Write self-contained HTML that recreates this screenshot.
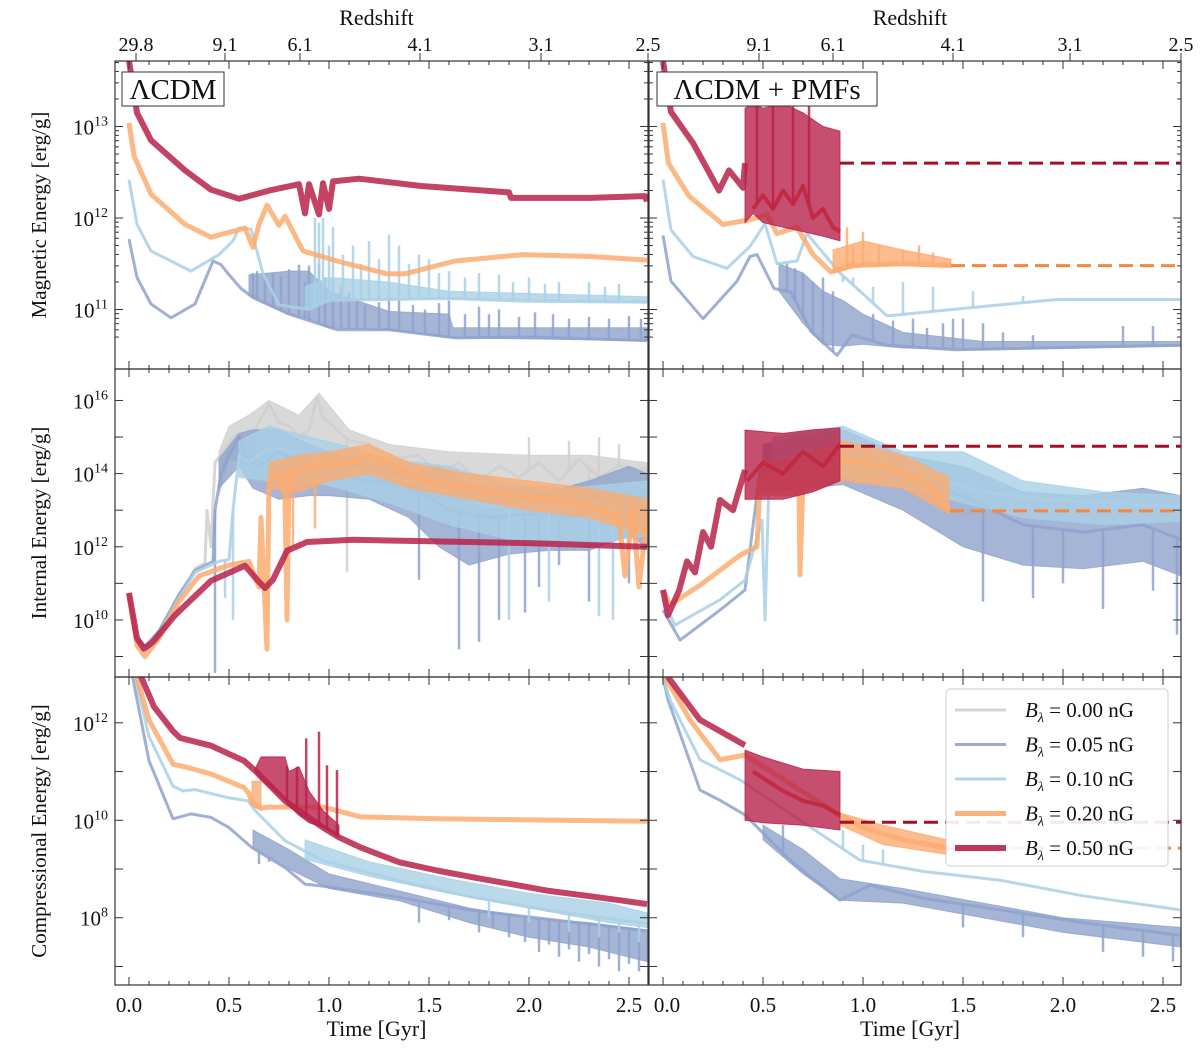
<!DOCTYPE html>
<html><head><meta charset="utf-8"><style>
body{margin:0;background:#fff}
svg{display:block;font-family:"Liberation Serif","DejaVu Serif",serif}
</style></head><body>
<svg id="fig" width="1200" height="1060" viewBox="0 0 1200 1060" xmlns="http://www.w3.org/2000/svg">
<defs>
<clipPath id="c00"><rect x="115" y="61" width="533" height="308"/></clipPath>
<clipPath id="c01"><rect x="649" y="61" width="532" height="308"/></clipPath>
<clipPath id="c10"><rect x="115" y="369" width="533" height="308"/></clipPath>
<clipPath id="c11"><rect x="649" y="369" width="532" height="308"/></clipPath>
<clipPath id="c20"><rect x="115" y="677" width="533" height="308"/></clipPath>
<clipPath id="c21"><rect x="649" y="677" width="532" height="308"/></clipPath>
</defs>
<g id="marks"></g>
<g id="axes"></g>
</svg>
<script>
// ---------- data (time in Gyr, values in log10 erg/g) ----------
const xTicks = [0.0,0.5,1.0,1.5,2.0,2.5];
const xTickLabels = ["0.0","0.5","1.0","1.5","2.0","2.5"];
const zTicksLeft = [0.035,0.48,0.855,1.455,2.06,2.595];
const zLabelsLeft = ["29.8","9.1","6.1","4.1","3.1","2.5"];
const zTicksRight = [0.48,0.85,1.45,2.035,2.59];
const zLabelsRight = ["9.1","6.1","4.1","3.1","2.5"];
const yTicksRow0 = [11,12,13];
const yTicksRow1 = [10,12,14,16];
const yTicksRow2 = [8,10,12];
const legendLabels = ["0.00","0.05","0.10","0.20","0.50"];

// top-left: magnetic, LCDM
const tl_b05_line = [[0,11.77],[0.04,11.35],[0.11,11.06],[0.21,10.91],[0.33,11.06],[0.42,11.53],[0.46,11.49],[0.5,11.38],[0.56,11.23],[0.62,11.13],[0.8,10.95],[1.04,10.78],[1.3,10.78],[1.63,10.69],[2.0,10.7],[2.59,10.66]];
const tl_b05_band = [[0.6,11.15,11.38],[0.8,10.95,11.42],[0.9,10.9,11.42],[1.0,10.8,11.2],[1.3,10.78,10.98],[1.6,10.7,10.95],[1.62,10.69,10.8],[2.59,10.66,10.8]];
const tl_b05_spikes = [[0.62,11.4],[0.64,11.42],[0.68,11.38],[0.72,11.4],[0.76,11.36],[0.8,11.44],[0.85,11.49],[0.88,11.3],[0.9,11.48],[0.95,11.5],[0.98,11.35],[1.02,11.3],[1.06,11.25],[1.1,11.2],[1.14,11.1],[1.18,11.05],[1.25,11.08],[1.3,11.12],[1.35,11.1],[1.42,11.05],[1.48,11.0],[1.55,11.07],[1.6,11.1],[1.68,10.95],[1.75,11.03],[1.8,10.95],[1.85,11.0],[1.95,10.92],[2.03,10.97],[2.12,10.95],[2.2,10.9],[2.3,10.92],[2.4,10.9],[2.5,10.93],[2.56,10.9]];
const tl_b10_line = [[0,12.42],[0.04,11.93],[0.11,11.64],[0.31,11.42],[0.45,11.6],[0.52,11.75],[0.55,11.89],[0.61,11.88],[0.67,11.39],[0.75,11.05],[0.9,11.0],[1.0,11.1],[1.6,11.12],[2.0,11.09],[2.59,11.08]];
const tl_b10_band = [[0.88,11.0,11.25],[1.0,11.1,11.35],[1.3,11.12,11.3],[1.6,11.12,11.2],[2.59,11.08,11.14]];
const tl_b10_spikes = [[0.93,12.0],[0.95,11.95],[0.97,12.0],[1.0,11.7],[1.02,11.9],[1.07,11.6],[1.12,11.7],[1.16,11.5],[1.2,11.75],[1.25,11.55],[1.3,11.82],[1.35,11.7],[1.4,11.5],[1.45,11.6],[1.5,11.55],[1.55,11.4],[1.6,11.42],[1.68,11.35],[1.75,11.4],[1.85,11.38],[1.92,11.3],[2.0,11.35],[2.08,11.28],[2.15,11.3],[2.3,11.3],[2.38,11.25],[2.45,11.28]];
const tl_b20_line = [[0,13.04],[0.025,12.68],[0.11,12.26],[0.28,11.93],[0.41,11.79],[0.58,11.89],[0.62,11.68],[0.65,11.93],[0.69,12.14],[0.75,11.92],[0.78,12.02],[0.87,11.64],[1.04,11.53],[1.29,11.39],[1.38,11.39],[1.63,11.53],[1.97,11.6],[2.31,11.58],[2.59,11.54]];
const tl_b50_line = [[0,13.72],[0.04,13.15],[0.11,12.85],[0.28,12.52],[0.41,12.31],[0.55,12.21],[0.7,12.3],[0.85,12.37],[0.88,12.05],[0.9,12.37],[0.95,12.04],[0.97,12.38],[1.0,12.1],[1.02,12.4],[1.15,12.43],[1.46,12.35],[1.9,12.28],[1.91,12.22],[2.31,12.22],[2.58,12.24],[2.59,12.18]];

// middle-left: internal, LCDM
const ml_b00_line = [[0,10.74],[0.04,9.5],[0.08,9.3],[0.15,9.7],[0.25,10.6],[0.33,11.4],[0.38,11.55],[0.39,13.0],[0.41,12.0],[0.43,14.3],[0.47,14.6],[0.52,15.0],[0.55,15.1],[0.6,14.4],[0.64,15.3],[0.7,15.9],[0.75,15.4],[0.8,15.3],[0.85,15.0],[0.9,15.2],[0.94,16.1],[0.97,15.5],[1.0,15.4],[1.1,14.9],[1.2,14.8],[1.3,14.4],[1.45,14.5],[1.55,14.0],[1.65,14.3],[1.75,13.8],[1.85,14.2],[1.95,13.9],[2.05,14.3],[2.15,13.8],[2.25,14.4],[2.35,13.9],[2.45,14.2],[2.59,14.1]];
const ml_b00_band = [[0.45,13.4,14.6],[0.5,14.4,15.3],[0.6,14.2,15.6],[0.7,14.6,16.0],[0.85,14.6,15.6],[0.95,14.6,16.2],[1.1,14.2,15.2],[1.3,13.6,14.8],[1.6,13.3,14.6],[2.0,13.2,14.5],[2.3,13.2,14.5],[2.59,13.3,14.3]];
const ml_b00_spikes = [[1.09,11.3],[1.6,12.5],[1.75,12.6],[2.0,15.0],[2.2,14.9],[2.3,12.0],[2.35,15.0],[2.45,14.8]];
const ml_b05_line = [[0,10.74],[0.04,9.5],[0.08,9.25],[0.15,9.7],[0.25,10.7],[0.33,11.35],[0.42,11.6],[0.43,13.0],[0.46,14.0],[0.5,14.5],[0.55,15.0],[0.58,14.4],[0.65,14.2],[0.75,14.6],[0.85,14.3],[1.0,14.0],[1.2,13.8],[1.4,13.7],[1.6,13.0],[1.8,12.8],[2.0,12.9],[2.2,12.8],[2.4,13.2],[2.59,13.4]];
const ml_b05_band = [[0.45,13.6,14.4],[0.55,14.2,15.1],[0.62,13.6,15.2],[0.75,13.3,15.2],[0.9,13.4,14.8],[1.0,13.4,14.6],[1.2,13.3,14.3],[1.4,12.8,14.0],[1.55,12.0,14.2],[1.7,11.5,13.7],[1.9,11.8,13.6],[2.1,11.9,13.5],[2.3,11.9,13.8],[2.5,12.3,14.2],[2.59,12.0,14.0]];
const ml_b05_spikes = [[0.43,8.55],[1.45,11.1],[1.65,9.2],[1.75,9.4],[1.85,10.0],[1.98,10.2],[2.05,10.9],[2.15,11.5],[2.3,10.5],[2.5,11.0]];
const ml_b10_line = [[0,10.7],[0.04,9.4],[0.08,9.2],[0.15,9.6],[0.25,10.6],[0.33,11.3],[0.45,11.6],[0.5,11.65],[0.52,13.0],[0.55,14.5],[0.6,14.3],[0.7,14.7],[0.85,14.6],[1.0,14.3],[1.2,14.0],[1.4,13.8],[1.6,13.5],[1.8,13.1],[2.0,13.2],[2.2,13.0],[2.4,13.3],[2.59,13.2]];
const ml_b10_band = [[0.55,13.9,14.9],[0.7,13.8,15.3],[0.9,13.8,15.0],[1.05,13.6,14.8],[1.3,13.2,14.4],[1.6,12.6,14.2],[1.9,12.2,13.7],[2.2,12.0,13.6],[2.59,12.3,13.8]];
const ml_b10_spikes = [[0.48,10.6],[0.52,10.0],[1.9,10.0],[2.1,10.5],[2.35,10.1],[2.42,10.0]];
const ml_b20_line = [[0,10.7],[0.04,9.3],[0.08,9.0],[0.15,9.5],[0.25,10.5],[0.35,11.2],[0.5,11.5],[0.6,11.6],[0.65,10.9],[0.66,12.8],[0.69,9.2],[0.7,13.8],[0.75,14.0],[0.78,13.3],[0.79,10.0],[0.8,14.0],[0.9,14.2],[1.0,14.3],[1.1,14.3],[1.2,14.5],[1.3,14.3],[1.4,14.0],[1.5,13.8],[1.7,13.6],[1.9,13.4],[2.1,13.3],[2.3,13.1],[2.45,12.8],[2.48,11.2],[2.52,13.0],[2.55,10.9],[2.59,12.8]];
const ml_b20_band = [[0.7,13.6,14.3],[0.85,13.5,14.5],[1.0,13.8,14.6],[1.2,14.0,14.8],[1.4,13.6,14.3],[1.7,13.3,14.0],[2.0,13.0,13.8],[2.3,12.8,13.6],[2.59,12.3,13.3]];
const ml_b20_spikes = [[0.82,12.0],[0.93,12.5]];
const ml_b50_line = [[0,10.74],[0.04,9.5],[0.075,9.21],[0.12,9.4],[0.23,10.13],[0.41,11.07],[0.58,11.48],[0.64,11.1],[0.68,10.87],[0.72,11.1],[0.79,11.89],[0.89,12.13],[1.125,12.19],[1.5,12.15],[2.0,12.1],[2.59,12.0]];

// bottom-left: compressional, LCDM
const bl_b05_line = [[0.0,13.2],[0.02,12.9],[0.1,11.22],[0.22,10.03],[0.31,10.13],[0.41,10.06],[0.5,9.85],[0.615,9.44],[0.78,9.03],[0.88,8.69],[0.97,8.65],[1.35,8.42],[1.72,8.15],[2.1,7.97],[2.59,7.73]];
const bl_b05_band = [[0.62,9.44,9.8],[0.8,9.0,9.4],[1.0,8.6,8.9],[1.35,8.35,8.55],[1.7,7.9,8.2],[2.0,7.6,8.0],[2.3,7.4,7.9],[2.59,7.1,7.75]];
const bl_b05_spikes = [[0.65,9.1],[0.7,9.15],[1.45,7.9],[1.6,7.95],[1.75,7.7],[1.82,7.8],[1.9,7.6],[1.98,7.5],[2.05,7.3],[2.1,7.45],[2.15,7.2],[2.2,7.35],[2.25,7.1],[2.3,7.25],[2.35,7.0],[2.4,7.15],[2.45,6.9],[2.5,7.05],[2.55,6.9]];
const bl_b10_line = [[0.0,13.2],[0.03,12.95],[0.1,11.72],[0.22,10.7],[0.27,10.6],[0.33,10.63],[0.5,10.46],[0.595,10.4],[0.63,10.2],[0.78,9.58],[0.97,9.17],[1.35,8.76],[1.72,8.42],[2.1,8.15],[2.59,7.88]];
const bl_b10_band = [[0.88,9.2,9.6],[1.2,8.85,9.15],[1.6,8.5,8.8],[2.0,8.2,8.5],[2.4,7.9,8.3],[2.59,7.8,8.1]];
const bl_b10_spikes = [[1.8,8.0],[2.0,7.9],[2.2,7.7],[2.35,7.6],[2.45,7.7],[2.55,7.5]];
const bl_b20_line = [[0.0,13.3],[0.038,12.95],[0.1,12.06],[0.22,11.15],[0.295,11.08],[0.41,10.95],[0.575,10.67],[0.6,10.55],[0.615,10.35],[0.66,10.25],[0.7,10.27],[0.97,10.27],[1.16,10.07],[1.54,10.03],[2.59,9.98]];
const bl_b20_band = [[0.615,10.3,10.8],[0.66,10.2,10.8]];
const bl_b50_line = [[0.04,13.2],[0.06,12.95],[0.125,12.33],[0.22,11.83],[0.255,11.69],[0.41,11.53],[0.575,11.22],[0.63,11.02],[0.78,10.4],[0.97,9.85],[1.05,9.65],[1.16,9.44],[1.35,9.14],[1.54,8.97],[1.72,8.83],[1.91,8.69],[2.1,8.55],[2.29,8.45],[2.47,8.35],[2.59,8.28]];
const bl_b50_band = [[0.63,11.0,11.05],[0.66,10.85,11.3],[0.78,10.4,11.3],[0.8,10.3,11.0],[0.85,10.1,11.1],[0.9,9.95,10.6],[0.97,9.85,10.2],[1.05,9.65,9.9]];
const bl_b50_spikes = [[0.79,11.1],[0.84,11.1],[0.886,11.68],[0.95,11.82],[0.99,11.13],[1.04,11.03]];

// top-right: magnetic, LCDM+PMFs
const tr_b05_line = [[0,11.81],[0.04,11.31],[0.2,10.9],[0.37,11.31],[0.435,11.58],[0.47,11.6],[0.555,11.23],[0.64,11.19],[0.74,10.76],[0.87,10.5],[0.945,10.72],[1.12,10.61],[1.46,10.56],[2.59,10.61]];
const tr_b05_band = [[0.58,11.2,11.5],[0.7,10.85,11.4],[0.8,10.62,11.2],[0.9,10.6,11.1],[1.0,10.62,10.95],[1.2,10.58,10.75],[1.6,10.56,10.65],[2.59,10.6,10.65]];
const tr_b05_spikes = [[0.62,11.5],[0.66,11.45],[0.7,11.4],[0.75,11.3],[0.8,11.35],[0.85,11.2],[1.05,10.95],[1.15,10.88],[1.25,10.9],[1.32,10.8],[1.4,10.85],[1.45,10.9],[1.5,10.9],[1.6,10.85],[1.7,10.75],[1.85,10.72],[2.3,10.82],[2.45,10.82]];
const tr_b10_line = [[0,12.42],[0.04,11.87],[0.15,11.58],[0.32,11.45],[0.435,11.69],[0.51,11.94],[0.57,11.5],[0.67,11.53],[0.72,11.83],[0.88,11.41],[1.12,10.93],[1.63,11.04],[1.97,11.11],[2.59,11.11]];
const tr_b10_spikes = [[0.9,11.3],[0.95,11.35],[1.05,11.25],[1.2,11.3],[1.35,11.25],[1.55,11.2],[1.8,11.15]];
const tr_b20_line = [[0,13.04],[0.027,12.6],[0.13,12.24],[0.3,11.93],[0.435,11.98],[0.52,12.04],[0.57,11.83],[0.67,11.9],[0.75,11.6],[0.84,11.41],[0.945,11.48],[1.2,11.5],[1.44,11.48]];
const tr_b20_band = [[0.85,11.4,11.65],[1.0,11.48,11.75],[1.2,11.48,11.65],[1.44,11.46,11.55]];
const tr_b20_spikes = [[0.92,11.9],[0.95,11.7],[1.0,11.85],[1.08,11.7],[1.2,11.65],[1.28,11.7],[1.35,11.62]];
const tr_b20_dash = [[1.44,11.48],[2.59,11.48]];
const tr_b50_line = [[0,13.71],[0.04,13.16],[0.15,12.82],[0.28,12.3],[0.33,12.52],[0.4,12.33],[0.41,12.6]];
const tr_b50_band = [[0.41,11.95,13.2],[0.45,12.05,13.25],[0.5,11.95,13.2],[0.6,11.9,13.25],[0.7,11.85,13.15],[0.8,11.8,13.0],[0.885,11.75,12.95]];
const tr_b50_spikes = [[0.47,13.42],[0.55,13.35],[0.65,13.42],[0.73,13.3]];
const tr_b50_inner = [[0.45,12.1],[0.5,12.25],[0.55,12.1],[0.6,12.3],[0.65,12.15],[0.7,12.35],[0.75,12.0],[0.8,12.1],[0.85,11.9],[0.885,11.85]];
const tr_b50_dash = [[0.885,12.6],[2.59,12.6]];

// middle-right: internal, LCDM+PMFs
const mr_b05_line = [[0,10.27],[0.085,9.45],[0.285,10.27],[0.41,10.82],[0.485,14.1],[0.6,14.3],[0.9,14.5],[1.2,13.9],[1.5,13.4],[1.8,12.6],[2.1,12.4],[2.4,12.6],[2.59,12.2]];
const mr_b05_band = [[0.5,13.5,14.8],[0.9,13.7,15.2],[1.2,13.0,14.5],[1.5,12.0,14.2],[1.8,11.5,13.5],[2.1,11.4,13.4],[2.4,11.6,13.6],[2.59,11.2,13.4]];
const mr_b05_spikes = [[1.6,10.5],[1.85,10.6],[2.0,11.0],[2.2,10.3],[2.45,10.8],[2.57,9.6]];
const mr_b10_line = [[0,10.55],[0.06,9.86],[0.285,10.55],[0.41,11.09],[0.495,12.73],[0.51,10.0],[0.53,13.8],[0.7,14.5],[1.0,14.4],[1.3,14.0],[1.6,13.5],[1.9,13.3],[2.2,13.2],[2.59,13.1]];
const mr_b10_band = [[0.55,13.8,15.0],[0.9,13.9,15.3],[1.2,13.6,14.6],[1.5,13.2,14.6],[1.8,12.8,13.8],[2.2,12.6,13.5],[2.59,12.7,13.4]];
const mr_b20_line = [[0,10.82],[0.035,10.41],[0.185,10.95],[0.385,11.77],[0.47,12.0],[0.485,13.83],[0.6,13.9],[0.68,13.5],[0.685,11.23],[0.7,13.9],[0.9,14.4],[1.1,14.2],[1.3,13.8],[1.435,13.0]];
const mr_b20_band = [[0.49,13.4,14.3],[0.65,13.4,14.4],[0.9,13.8,14.9],[1.2,13.6,14.5],[1.43,12.9,13.9]];
const mr_b20_dash = [[1.435,12.98],[2.59,12.98]];
const mr_b50_line = [[0,10.82],[0.025,10.13],[0.08,10.8],[0.12,11.6],[0.16,11.3],[0.2,12.4],[0.24,12.0],[0.285,13.28],[0.35,13.0],[0.41,14.1]];
const mr_b50_band = [[0.41,13.3,15.19],[0.6,13.3,15.1],[0.75,13.5,15.2],[0.885,13.8,15.25]];
const mr_b50_inner = [[0.42,13.8],[0.5,14.3],[0.6,14.0],[0.7,14.6],[0.8,14.2],[0.885,14.8]];
const mr_b50_dash = [[0.885,14.75],[2.59,14.75]];

// bottom-right: compressional, LCDM+PMFs
const br_b05_line = [[0.0,12.94],[0.025,12.47],[0.185,10.62],[0.285,10.41],[0.41,10.11],[0.635,9.18],[0.885,8.36],[1.035,8.67],[1.3,8.4],[1.685,8.16],[2.1,7.9],[2.585,7.64]];
const br_b05_band = [[0.5,9.6,9.9],[0.7,8.9,9.4],[0.885,8.36,8.8],[1.2,8.3,8.6],[1.6,8.0,8.3],[2.0,7.7,8.0],[2.59,7.4,7.8]];
const br_b05_spikes = [[0.6,9.9],[1.5,7.8],[1.8,7.6],[2.2,7.3],[2.4,7.2],[2.55,7.1]];
const br_b10_line = [[0.0,12.94],[0.035,12.47],[0.185,11.24],[0.385,10.83],[0.685,10.0],[0.985,9.18],[1.3,8.95],[1.685,8.77],[2.1,8.45],[2.585,8.16]];
const br_b10_spikes = [[0.9,9.8],[1.0,9.5],[1.1,9.4]];
const br_b20_line = [[0.01,12.94],[0.135,12.06],[0.285,11.24],[0.41,11.34],[0.685,10.62],[0.885,10.11],[1.0,9.85],[1.2,9.6],[1.42,9.43]];
const br_b20_band = [[0.885,9.9,10.15],[1.1,9.5,9.9],[1.42,9.3,9.6]];
const br_b20_dash = [[1.42,9.43],[2.59,9.43]];
const br_b50_line = [[0.025,12.94],[0.185,12.06],[0.41,11.54]];
const br_b50_band = [[0.41,10.0,11.44],[0.5,9.95,11.3],[0.7,9.9,11.05],[0.885,9.8,11.0]];
const br_b50_inner = [[0.45,11.0],[0.6,10.6],[0.7,10.4],[0.8,10.3],[0.885,10.1]];
const br_b50_dash = [[0.885,9.96],[2.59,9.96]];

// ---------- geometry ----------
const NS = "http://www.w3.org/2000/svg";
const cols = [{x0:115,x1:648,zero:129},{x0:649,x1:1181,zero:663}];
const rows = [{y0:61,y1:369,vmax:13.716,vmin:10.35},{y0:369,y1:677,vmax:16.86,vmin:8.44},{y0:677,y1:985,vmax:12.94,vmin:6.62}];
const PXG = 200;
function X(t,c){return cols[c].zero + t*PXG;}
function Y(v,r){const R=rows[r];return R.y0 + (R.vmax-v)/(R.vmax-R.vmin)*(R.y1-R.y0);}
const COL = {b00:"#cfcfcf",b05:"#8fa2cc",b10:"#a9d0e6",b20:"#fbab70",b50:"#b8224a"};
const WID = {b00:3,b05:3,b10:3,b20:5,b50:6};
const marks = document.getElementById('marks');
const axes = document.getElementById('axes');
function mk(tag,attrs,parent){const e=document.createElementNS(NS,tag);for(const k in attrs)e.setAttribute(k,attrs[k]);(parent||marks).appendChild(e);return e;}
function interp(line,t){if(t<=line[0][0])return line[0][1];for(let i=1;i<line.length;i++){if(t<=line[i][0]){const a=line[i-1],b=line[i];return a[1]+(b[1]-a[1])*(t-a[0])/(b[0]-a[0]);}}return line[line.length-1][1];}
function panelGroup(r,c,name){const g=mk('g',{'clip-path':`url(#c${r}${c})`});


return g;}
function drawLine(g,data,r,c,key,opts){opts=opts||{};
const d=data.map((p,i)=>(i?'L':'M')+X(p[0],c).toFixed(1)+' '+Y(p[1],r).toFixed(1)).join(' ');
const e=mk('path',{d:d,fill:'none',stroke:opts.color||COL[key],'stroke-width':opts.w||WID[key],'stroke-opacity':opts.op||0.85,'stroke-linejoin':'round','stroke-dasharray':opts.dash||'none'},g);

}
function drawBand(g,data,r,c,key,name){
const up=data.map(p=>X(p[0],c).toFixed(1)+','+Y(p[2],r).toFixed(1));
const lo=data.slice().reverse().map(p=>X(p[0],c).toFixed(1)+','+Y(p[1],r).toFixed(1));
const e=mk('polygon',{points:up.concat(lo).join(' '),fill:COL[key],'fill-opacity':0.8,stroke:COL[key],'stroke-width':1,'stroke-opacity':0.8},g);

}
function drawSpikes(g,spk,line,r,c,key){spk.forEach(p=>{const x=X(p[0],c);
const e=mk('line',{x1:x,x2:x,y1:Y(interp(line,p[0]),r),y2:Y(p[1],r),stroke:COL[key],'stroke-width':2.5,'stroke-opacity':0.85},g);

});}

// ---------- panels ----------
let g;
g=panelGroup(0,0,'magnetic-lcdm-panel');
drawBand(g,tl_b05_band,0,0,'b05');drawLine(g,tl_b05_line,0,0,'b05');drawSpikes(g,tl_b05_spikes,tl_b05_line,0,0,'b05');
drawBand(g,tl_b10_band,0,0,'b10');drawLine(g,tl_b10_line,0,0,'b10');drawSpikes(g,tl_b10_spikes,tl_b10_line,0,0,'b10');
drawLine(g,tl_b20_line,0,0,'b20');drawLine(g,tl_b50_line,0,0,'b50');

g=panelGroup(1,0,'internal-lcdm-panel');
drawBand(g,ml_b00_band,1,0,'b00');drawLine(g,ml_b00_line,1,0,'b00');drawSpikes(g,ml_b00_spikes,ml_b00_line,1,0,'b00');
drawBand(g,ml_b05_band,1,0,'b05');drawLine(g,ml_b05_line,1,0,'b05');drawSpikes(g,ml_b05_spikes,ml_b05_line,1,0,'b05');
drawBand(g,ml_b10_band,1,0,'b10');drawLine(g,ml_b10_line,1,0,'b10');drawSpikes(g,ml_b10_spikes,ml_b10_line,1,0,'b10');
drawBand(g,ml_b20_band,1,0,'b20');drawLine(g,ml_b20_line,1,0,'b20');drawSpikes(g,ml_b20_spikes,ml_b20_line,1,0,'b20');
drawLine(g,ml_b50_line,1,0,'b50');

g=panelGroup(2,0,'compressional-lcdm-panel');
drawBand(g,bl_b05_band,2,0,'b05');drawLine(g,bl_b05_line,2,0,'b05');drawSpikes(g,bl_b05_spikes,bl_b05_line,2,0,'b05');
drawBand(g,bl_b10_band,2,0,'b10');drawLine(g,bl_b10_line,2,0,'b10');drawSpikes(g,bl_b10_spikes,bl_b10_line,2,0,'b10');
drawBand(g,bl_b20_band,2,0,'b20');drawLine(g,bl_b20_line,2,0,'b20');
drawBand(g,bl_b50_band,2,0,'b50');drawLine(g,bl_b50_line,2,0,'b50');drawSpikes(g,bl_b50_spikes,bl_b50_line,2,0,'b50');

g=panelGroup(0,1,'magnetic-pmf-panel');
drawBand(g,tr_b05_band,0,1,'b05');drawLine(g,tr_b05_line,0,1,'b05');drawSpikes(g,tr_b05_spikes,tr_b05_line,0,1,'b05');
drawLine(g,tr_b10_line,0,1,'b10');drawSpikes(g,tr_b10_spikes,tr_b10_line,0,1,'b10');
drawBand(g,tr_b20_band,0,1,'b20');drawLine(g,tr_b20_line,0,1,'b20');drawSpikes(g,tr_b20_spikes,tr_b20_line,0,1,'b20');
drawLine(g,tr_b20_dash,0,1,'b20',{color:'#f4873e',w:3,op:1,dash:'14 7',name:'orange-dashed-extension'});
drawLine(g,tr_b50_line,0,1,'b50');drawBand(g,tr_b50_band,0,1,'b50');drawSpikes(g,tr_b50_spikes,tr_b50_inner,0,1,'b50');
drawLine(g,tr_b50_inner,0,1,'b50',{color:'#c0283f',w:4,op:0.9,name:'red-inner-line'});
drawLine(g,tr_b50_dash,0,1,'b50',{color:'#a50f25',w:3,op:1,dash:'14 7',name:'red-dashed-extension'});

g=panelGroup(1,1,'internal-pmf-panel');
drawBand(g,mr_b05_band,1,1,'b05');drawLine(g,mr_b05_line,1,1,'b05');drawSpikes(g,mr_b05_spikes,mr_b05_line,1,1,'b05');
drawBand(g,mr_b10_band,1,1,'b10');drawLine(g,mr_b10_line,1,1,'b10');
drawBand(g,mr_b20_band,1,1,'b20');drawLine(g,mr_b20_line,1,1,'b20');
drawLine(g,mr_b20_dash,1,1,'b20',{color:'#f4873e',w:3,op:1,dash:'14 7',name:'orange-dashed-extension'});
drawLine(g,mr_b50_line,1,1,'b50');drawBand(g,mr_b50_band,1,1,'b50');
drawLine(g,mr_b50_inner,1,1,'b50',{color:'#c0283f',w:4,op:0.9,name:'red-inner-line'});
drawLine(g,mr_b50_dash,1,1,'b50',{color:'#a50f25',w:3,op:1,dash:'14 7',name:'red-dashed-extension'});

g=panelGroup(2,1,'compressional-pmf-panel');
drawBand(g,br_b05_band,2,1,'b05');drawLine(g,br_b05_line,2,1,'b05');drawSpikes(g,br_b05_spikes,br_b05_line,2,1,'b05');
drawLine(g,br_b10_line,2,1,'b10');drawSpikes(g,br_b10_spikes,br_b10_line,2,1,'b10');
drawBand(g,br_b20_band,2,1,'b20');drawLine(g,br_b20_line,2,1,'b20');
drawLine(g,br_b20_dash,2,1,'b20',{color:'#f4873e',w:3,op:1,dash:'14 7',name:'orange-dashed-extension'});
drawLine(g,br_b50_line,2,1,'b50');drawBand(g,br_b50_band,2,1,'b50');
drawLine(g,br_b50_inner,2,1,'b50',{color:'#c0283f',w:4,op:0.9,name:'red-inner-line'});
drawLine(g,br_b50_dash,2,1,'b50',{color:'#a50f25',w:3,op:1,dash:'14 7',name:'red-dashed-extension'});

// ---------- axes ----------
function txt(x,y,s,size,anchor,name,parent){const e=mk('text',{x:x,y:y,'font-size':size,'text-anchor':anchor||'middle',fill:'#111'},parent||axes);e.textContent=s;

return e;}
function tick(x1,y1,x2,y2,name){const e=mk('line',{x1:x1,y1:y1,x2:x2,y2:y2,stroke:'#333','stroke-width':1},axes);

}
const yTickSets=[yTicksRow0,yTicksRow1,yTicksRow2];
for(let r=0;r<3;r++)for(let c=0;c<2;c++){
const C=cols[c],R=rows[r];
const fr=mk('rect',{x:C.x0,y:R.y0,width:C.x1-C.x0,height:R.y1-R.y0,fill:'none',stroke:'#333','stroke-width':1.2},axes);


for(let t=0;t<=2.55;t+=0.1){const x=X(t,c);const major=Math.abs(t*2-Math.round(t*2))<1e-6;const L=major?8:4;
tick(x,R.y1,x,R.y1-L,'x-tick');tick(x,R.y0,x,R.y0+L,'x-tick');}
for(let d=Math.ceil(R.vmin);d<=Math.floor(R.vmax);d++){const y=Y(d,r);tick(C.x0,y,C.x0+8,y,'y-tick');tick(C.x1,y,C.x1-8,y,'y-tick');
if(r===0){for(let m=2;m<10;m++){const v=d+Math.log10(m);if(v<R.vmax){const ym=Y(v,r);tick(C.x0,ym,C.x0+4,ym,'y-minor-tick');tick(C.x1,ym,C.x1-4,ym,'y-minor-tick');}}
if(d===Math.ceil(R.vmin)){for(let m=5;m<10;m++){const v=d-1+Math.log10(m);if(v>R.vmin){const ym=Y(v,r);tick(C.x0,ym,C.x0+4,ym,'y-minor-tick');tick(C.x1,ym,C.x1-4,ym,'y-minor-tick');}}}}}
if(c===0){yTickSets[r].forEach(d=>{const y=Y(d,r);const e=txt(108,y+8,'10',21,'end','y-tick-label');const s=mk('tspan',{dy:-9,'font-size':14},e);s.textContent=String(d);});}
}
for(let c=0;c<2;c++){xTicks.forEach((t,i)=>{if(c===1&&i===0){txt(X(t,c)+4,1012,xTickLabels[i],21,'middle','x-tick-label');}else txt(X(t,c),1012,xTickLabels[i],21,'middle','x-tick-label');});
txt((cols[c].x0+cols[c].x1)/2-5,1036,'Time [Gyr]',22,'middle','x-axis-title');
txt((cols[c].x0+cols[c].x1)/2-5,25,'Redshift',22,'middle','redshift-axis-title');}
zTicksLeft.forEach((t,i)=>{const x=X(t,0);tick(x,61,x,53,'redshift-tick');if(i<5)txt(x,51,zLabelsLeft[i],20,'middle','redshift-tick-label');});
txt(648,51,'2.5',20,'middle','redshift-tick-label');
zTicksRight.forEach((t,i)=>{const x=X(t,1);tick(x,61,x,53,'redshift-tick');txt(Math.min(x,1181),51,zLabelsRight[i],20,'middle','redshift-tick-label');});
[['Magnetic Energy [erg/g]',215],['Internal Energy [erg/g]',523],['Compressional Energy [erg/g]',831]].forEach(a=>{const e=txt(0,0,a[0],21,'middle','y-axis-title');e.setAttribute('transform',`translate(46,${a[1]}) rotate(-90)`);});
function boxLabel(x,y,w,s,name){const r=mk('rect',{x:x,y:y,width:w,height:34,fill:'#fff',stroke:'#333','stroke-width':1},axes);


txt(x+w/2,y+27,s,29,'middle',name);}
boxLabel(122,72,102,'ΛCDM','lcdm-label');
boxLabel(657,72,220,'ΛCDM + PMFs','lcdm-pmfs-label');
const lg=mk('g',{},axes);


const lb=mk('rect',{x:946,y:689,width:222,height:177,rx:4,fill:'#fff','fill-opacity':0.9,stroke:'#cccccc','stroke-width':1},lg);


['b00','b05','b10','b20','b50'].forEach((k,i)=>{const y=710+i*34.5;
const ln=mk('line',{x1:955,x2:1006,y1:y,y2:y,stroke:COL[k],'stroke-width':WID[k],'stroke-opacity':0.9},lg);


const t=mk('text',{x:1025,y:y+7,'font-size':21,fill:'#111'},lg);


const a=mk('tspan',{'font-style':'italic'},t);a.textContent='B';
const b=mk('tspan',{'font-size':14,dy:5,'font-style':'italic'},t);b.textContent='λ';
const c2=mk('tspan',{dy:-5},t);c2.textContent=' = '+legendLabels[i]+' nG';});
</script>
</body></html>
